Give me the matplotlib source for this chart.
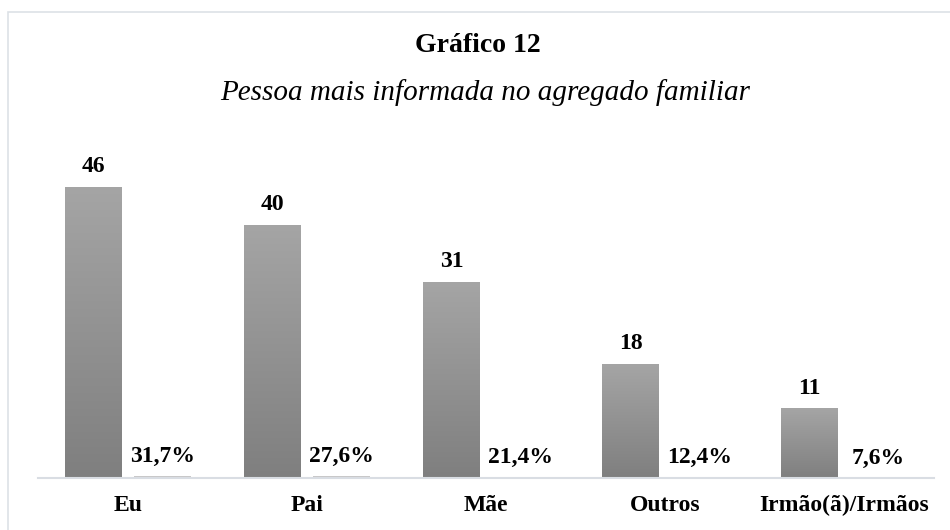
import matplotlib
matplotlib.use("Agg")
import matplotlib.pyplot as plt
import numpy as np
from matplotlib.patches import Rectangle
from matplotlib.colors import LinearSegmentedColormap

categories = ["Eu", "Pai", "Mãe", "Outros", "Irmão(ã)/Irmãos"]
counts = [46, 40, 31, 18, 11]
percents = [31.7, 27.6, 21.4, 12.4, 7.6]
pct_labels = ["31,7%", "27,6%", "21,4%", "12,4%", "7,6%"]
title = "Gráfico 12"
subtitle = "Pessoa mais informada no agregado familiar"

plt.rcParams['font.family'] = ['Liberation Serif', 'DejaVu Serif']

fig = plt.figure(figsize=(9.5, 5.3), dpi=100)
ax = fig.add_axes([38.5/950, 52/530, (933.6-38.5)/950, (478-161.5)/530])

x = np.arange(len(categories))
w = 0.318
off = 0.193

bars = ax.bar(x - off, counts, width=w, color='none', edgecolor='none', zorder=2)
pbars = ax.bar(x + off, [p / 100 for p in percents], width=w, color='#c8c8c8',
               edgecolor='none', zorder=2)

cmap = LinearSegmentedColormap.from_list('g', ['#7f7f7f', '#a5a5a5'])
grad = np.linspace(0, 1, 256).reshape(-1, 1)
for b in bars:
    x0 = b.get_x(); x1 = x0 + b.get_width(); h = b.get_height()
    im = ax.imshow(grad, extent=[x0, x1, 0, h], origin='lower', aspect='auto',
                   cmap=cmap, zorder=2, interpolation='bilinear')
    im.set_clip_path(b)

for b, v in zip(bars, counts):
    ax.annotate(str(v), (b.get_x() + b.get_width() / 2, b.get_height()),
                xytext=(0, 10.5), textcoords='offset points', ha='center',
                va='baseline', fontsize=17, fontweight='bold')
for b, lab in zip(pbars, pct_labels):
    ax.annotate(lab, (b.get_x() + b.get_width() / 2, b.get_height()),
                xytext=(0, 10), textcoords='offset points', ha='center',
                va='baseline', fontsize=17, fontweight='bold')

ax.set_xlim(-0.5, len(categories) - 0.5)
ax.set_ylim(0, 50)
ax.set_xticks(x)
ax.set_xticklabels(categories, fontsize=17, fontweight='bold')
ax.tick_params(axis='x', length=0, pad=12)
ax.set_yticks([])
for s in ['top', 'right', 'left']:
    ax.spines[s].set_visible(False)
ax.spines['bottom'].set_color('#d9dde3')
ax.spines['bottom'].set_linewidth(1.5)

fig.text(478/950, 1 - 52/530, title, ha='center', va='baseline',
         fontsize=20, fontweight='bold')
fig.text(485/950, 1 - 100/530, subtitle, ha='center', va='baseline',
         fontsize=21, style='italic')

fig.patches.append(Rectangle((8/950, -0.05), 1.0, 1 - 11.5/530 + 0.05,
                             transform=fig.transFigure, fill=False,
                             edgecolor='#dde1e6', linewidth=1.2))

fig.savefig('out.png', dpi=100, facecolor='white')
